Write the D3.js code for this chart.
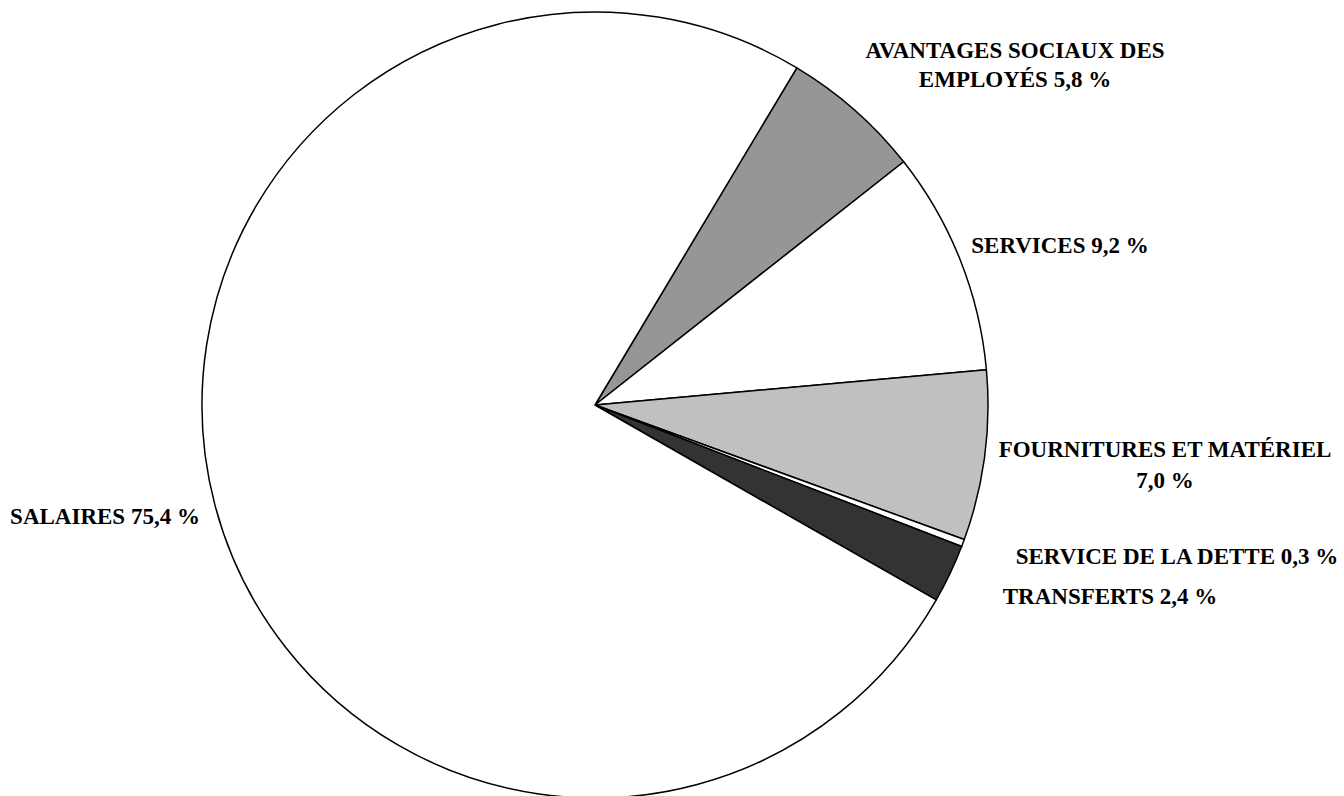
<!DOCTYPE html>
<html>
<head>
<meta charset="utf-8">
<script src="https://cdn.jsdelivr.net/npm/d3@7"></script>
<style>
  body { margin: 0; background: #fff; }
  text { font-family: "Liberation Serif", "Times New Roman", serif; font-weight: bold; font-size: 23px; fill: #000; }
</style>
</head>
<body>
<div id="chart"></div>
<script>
var width  = 1344;
var height = 796;

// data (clockwise order, starting at the employee benefits slice)
var categories = ["AVANTAGES SOCIAUX DES EMPLOYÉS", "SERVICES", "FOURNITURES ET MATÉRIEL",
                  "SERVICE DE LA DETTE", "TRANSFERTS", "SALAIRES"];
var values     = [5.8, 9.2, 7.0, 0.3, 2.4, 75.4];
var valueText  = ["5,8 %", "9,2 %", "7,0 %", "0,3 %", "2,4 %", "75,4 %"];
var fills      = ["#969696", "#ffffff", "#c0c0c0", "#ffffff", "#333333", "#ffffff"];

// label layout: lines of text, anchor x, first baseline, line gap
var labelLines = [
  ["AVANTAGES SOCIAUX DES", "EMPLOYÉS 5,8 %"],
  ["SERVICES 9,2 %"],
  ["FOURNITURES ET MATÉRIEL", "7,0 %"],
  ["SERVICE DE LA DETTE 0,3 %"],
  ["TRANSFERTS 2,4 %"],
  ["SALAIRES 75,4 %"]
];
var labelPos = [[1015, 58, 29], [1060, 253, 0], [1165, 457, 31], [1177, 564, 0], [1110, 604, 0], [105, 524, 0]];

var cx = 595, cy = 405, radius = 393;

var svg = d3.select("#chart")
    .append("svg")
    .attr("width", width)
    .attr("height", height);

var start = 30.9 * Math.PI / 180;

var pie = d3.pie()
    .sort(null)
    .startAngle(start)
    .endAngle(start + 2 * Math.PI)
    .value(function(d) { return d; });

var arc = d3.arc()
    .innerRadius(0)
    .outerRadius(radius);

var g = svg.append("g")
    .attr("transform", "translate(" + cx + "," + cy + ")");

g.selectAll("path")
    .data(pie(values))
    .enter()
    .append("path")
    .attr("d", arc)
    .attr("fill", function(d, i) { return fills[i]; })
    .attr("stroke", "#000")
    .attr("stroke-width", 1.5)
    .attr("stroke-linejoin", "round");

var labels = svg.selectAll("text.lbl")
    .data(labelLines)
    .enter()
    .append("text")
    .attr("class", "lbl")
    .attr("text-anchor", "middle")
    .attr("x", function(d, i) { return labelPos[i][0]; })
    .attr("y", function(d, i) { return labelPos[i][1]; });

labels.each(function(lines, i) {
  d3.select(this).selectAll("tspan")
    .data(lines)
    .enter()
    .append("tspan")
    .attr("x", labelPos[i][0])
    .attr("dy", function(d, j) { return j === 0 ? 0 : labelPos[i][2]; })
    .text(function(d) { return d; });
});
</script>
</body>
</html>
